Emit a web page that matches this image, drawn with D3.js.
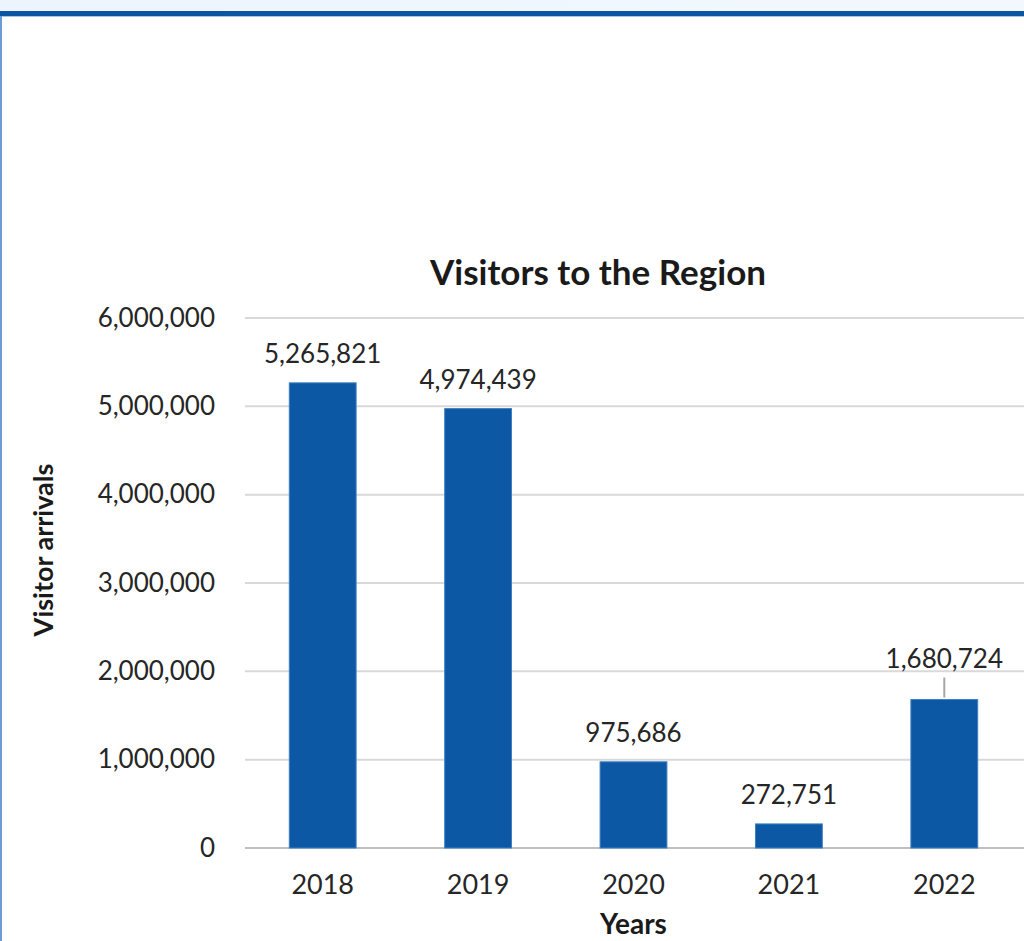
<!DOCTYPE html>
<html>
<head>
<meta charset="utf-8">
<script src="https://cdn.jsdelivr.net/npm/d3@7"></script>
<style>
  html, body { margin: 0; padding: 0; background: #fff; }
  svg { display: block; font-family: Lato, "Open Sans", sans-serif; }
</style>
</head>
<body>
<svg id="chart" width="1024" height="941"></svg>
<script>
// ===== Data =====
const years = ["2018", "2019", "2020", "2021", "2022"];
const visitors = [5265821, 4974439, 975686, 272751, 1680724];
const yTicks = [0, 1000000, 2000000, 3000000, 4000000, 5000000, 6000000];

// ===== Layout =====
const svg = d3.select("#chart");
const W = 1024, H = 941;
const plot = { left: 245, right: 1022, top: 318, bottom: 848 };
const barColor = "#0c58a5";
const fmt = d3.format(",");

// page frame: pale band, dark rule, left border
const grad = svg.append("defs").append("linearGradient")
  .attr("id", "band").attr("x1", 0).attr("x2", 1);
grad.append("stop").attr("offset", "0%").attr("stop-color", "#edf4fd");
grad.append("stop").attr("offset", "100%").attr("stop-color", "#f3f8fe");
svg.append("rect").attr("x", 0).attr("y", 0).attr("width", W).attr("height", 11).attr("fill", "url(#band)");
svg.append("rect").attr("x", 0).attr("y", 11).attr("width", W).attr("height", 5).attr("fill", "#0b55a3");
svg.append("rect").attr("x", 0).attr("y", 16).attr("width", W).attr("height", 1).attr("fill", "#a9c4e6");
svg.append("rect").attr("x", 0).attr("y", 16).attr("width", 2).attr("height", H - 16).attr("fill", "#6c9cd4");

// ===== Scales =====
const x = d3.scaleBand().domain(years).range([plot.left, plot.right])
  .paddingInner(0.57).paddingOuter(0.285);
const y = d3.scaleLinear().domain([0, 6000000]).range([plot.bottom, plot.top]);

// gridlines
svg.append("g")
  .selectAll("line")
  .data(yTicks)
  .join("line")
  .attr("x1", plot.left)
  .attr("x2", W)
  .attr("y1", d => y(d))
  .attr("y2", d => y(d))
  .attr("stroke", d => d === 0 ? "#bfbfbf" : "#d9d9d9")
  .attr("stroke-width", 2);

// y axis labels (no axis line)
const yAxis = svg.append("g")
  .attr("transform", `translate(${plot.left - 30},0)`)
  .call(d3.axisLeft(y).tickValues(yTicks).tickFormat(fmt).tickSize(0).tickPadding(0));
yAxis.select(".domain").remove();
yAxis.selectAll("text")
  .attr("font-family", "Lato, sans-serif")
  .attr("font-size", 26)
  .attr("fill", "#262626");

// x axis labels
const xAxis = svg.append("g")
  .attr("transform", `translate(0,${plot.bottom})`)
  .call(d3.axisBottom(x).tickSize(0).tickPadding(27));
xAxis.select(".domain").remove();
xAxis.selectAll("text")
  .attr("font-family", "Lato, sans-serif")
  .attr("font-size", 27)
  .attr("fill", "#262626");

// bars
svg.append("g")
  .selectAll("rect")
  .data(years)
  .join("rect")
  .attr("x", d => x(d))
  .attr("width", x.bandwidth())
  .attr("y", (d, i) => y(visitors[i]))
  .attr("height", (d, i) => y(0) - y(visitors[i]))
  .attr("fill", barColor)
  .attr("stroke", "#3f7fc2")
  .attr("stroke-width", 1);

// data labels; the last one sits higher with a leader line
const lift = [0, 0, 0, 0, 12];
const labels = svg.append("g");
years.forEach((yr, i) => {
  const cx = x(yr) + x.bandwidth() / 2;
  const top = y(visitors[i]);
  if (lift[i] > 0) {
    labels.append("line")
      .attr("x1", cx).attr("x2", cx)
      .attr("y1", top - 2).attr("y2", top - 22)
      .attr("stroke", "#a6a6a6").attr("stroke-width", 2);
  }
  labels.append("text")
    .attr("x", cx)
    .attr("y", top - 20 - lift[i])
    .attr("text-anchor", "middle")
    .attr("font-size", 26)
    .attr("fill", "#262626")
    .text(fmt(visitors[i]));
});

// titles
svg.append("text")
  .attr("x", 598).attr("y", 285)
  .attr("text-anchor", "middle")
  .attr("font-size", 35).attr("font-weight", "bold")
  .attr("fill", "#1a1a1a")
  .text("Visitors to the Region");

svg.append("text")
  .attr("transform", `translate(53,550) rotate(-90)`)
  .attr("text-anchor", "middle")
  .attr("font-size", 27).attr("font-weight", "bold")
  .attr("fill", "#1a1a1a")
  .text("Visitor arrivals");

svg.append("text")
  .attr("x", x("2020") + x.bandwidth() / 2).attr("y", 934)
  .attr("text-anchor", "middle")
  .attr("font-size", 28).attr("font-weight", "bold")
  .attr("fill", "#1a1a1a")
  .text("Years");
</script>
</body>
</html>
